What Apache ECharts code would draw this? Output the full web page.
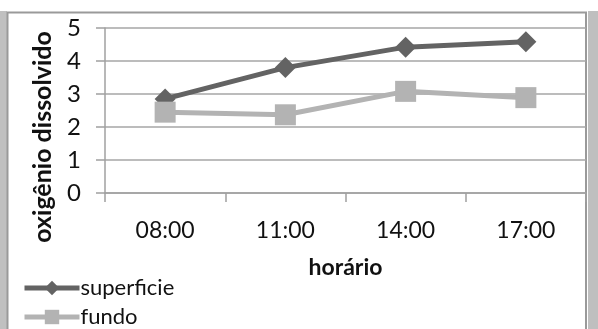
<!DOCTYPE html>
<html>
<head>
<meta charset="utf-8">
<script src="https://cdn.jsdelivr.net/npm/echarts@6/dist/echarts.min.js"></script>
<style>
html,body{margin:0;padding:0;background:#fff;}
#c{width:598px;height:329px;}
</style>
</head>
<body>
<div id="c"></div>
<script>
var categories = ['08:00', '11:00', '14:00', '17:00'];
var superficie = [2.85, 3.8, 4.42, 4.58];
var fundo = [2.45, 2.37, 3.08, 2.89];
var yTicks = [0, 1, 2, 3, 4, 5];

var chart = echarts.init(document.getElementById('c'), null, {renderer: 'canvas'});
var FONT = 'Lato, "Open Sans", sans-serif';
function legendFor(name, top) {
  return {
    orient: 'horizontal',
    left: 17,
    top: top,
    itemWidth: 55,
    itemHeight: 18,
    itemGap: 0,
    lineStyle: {width: 5},
    textStyle: {fontFamily: FONT, fontSize: 22, color: '#111', padding: [0, 0, 0, -4]},
    data: [name]
  };
}
chart.setOption({
  animation: false,
  backgroundColor: '#fff',
  grid: {left: 105, right: 12, top: 28, bottom: 136, containLabel: false},
  xAxis: {
    type: 'category',
    data: categories,
    boundaryGap: true,
    name: 'horário',
    nameLocation: 'middle',
    nameGap: 63,
    nameTextStyle: {fontFamily: FONT, fontSize: 23, fontWeight: 'bold', color: '#111'},
    axisLine: {show: true, lineStyle: {color: '#a0a0a0', width: 1.5}},
    axisTick: {show: true, length: 9, alignWithLabel: false, lineStyle: {color: '#a0a0a0', width: 1.5}},
    axisLabel: {fontFamily: FONT, fontSize: 23, color: '#111', margin: 26},
    splitLine: {show: false}
  },
  yAxis: {
    type: 'value',
    min: yTicks[0],
    max: yTicks[yTicks.length - 1],
    interval: 1,
    axisLine: {show: true, lineStyle: {color: '#a0a0a0', width: 1.5}},
    axisTick: {show: true, length: 9, lineStyle: {color: '#a0a0a0', width: 1.5}},
    axisLabel: {fontFamily: FONT, fontSize: 24, color: '#111', margin: 24},
    splitLine: {show: true, lineStyle: {color: '#a6a6a6', width: 1.5}}
  },
  legend: [legendFor('superficie', 272), legendFor('fundo', 301)],
  series: [
    {
      name: 'superficie',
      type: 'line',
      data: superficie,
      symbol: 'diamond',
      symbolSize: 21,
      lineStyle: {color: '#636363', width: 5},
      itemStyle: {color: '#636363'}
    },
    {
      name: 'fundo',
      type: 'line',
      data: fundo,
      symbol: 'rect',
      symbolSize: 21,
      lineStyle: {color: '#b3b3b3', width: 5},
      itemStyle: {color: '#b3b3b3'}
    }
  ],
  graphic: [
    {type: 'rect', shape: {x: 0, y: 11, width: 7, height: 330}, style: {fill: '#c0c0c0'}, silent: true},
    {type: 'rect', shape: {x: 588, y: 11, width: 10, height: 330}, style: {fill: '#bfbfbf'}, silent: true},
    {type: 'polyline', shape: {points: [[7.5, 340], [7.5, 12.5], [586, 12.5], [586, 340]]}, style: {stroke: '#9a9a9a', lineWidth: 2, fill: null}, silent: true},
    {type: 'text', x: 43, y: 137, rotation: Math.PI / 2,
      style: {text: 'oxigênio dissolvido', font: 'bold 25px ' + FONT, fill: '#111', align: 'center', verticalAlign: 'middle'}, silent: true}
  ]
});
</script>
</body>
</html>
